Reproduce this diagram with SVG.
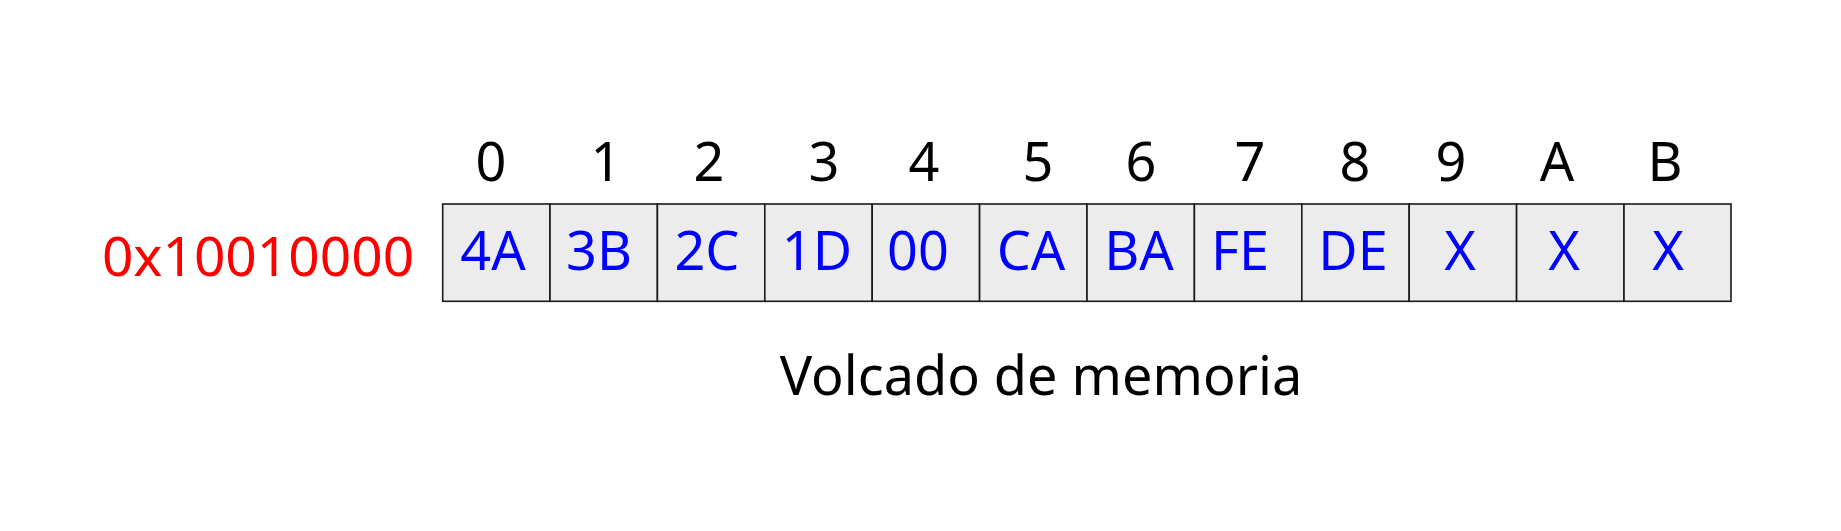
<svg xmlns="http://www.w3.org/2000/svg" width="1841" height="531" viewBox="0 0 1841 531">
<style>
text{font-family:"Noto Sans","Open Sans","DejaVu Sans",sans-serif;font-size:54px;text-anchor:middle}
.idx{fill:#000}
.val{fill:#0000ff}
.addr{fill:#ff0000;font-size:55px}
.cap{fill:#000}
.cell{fill:#ececec;stroke:#1a1a1a;stroke-width:1.6}
</style>
<rect width="1841" height="531" fill="#fff"/>
<g id="indices">
<text class="idx" x="491" y="181">0</text>
<text class="idx" x="606" y="181">1</text>
<text class="idx" x="709" y="181">2</text>
<text class="idx" x="824" y="181">3</text>
<text class="idx" x="924" y="181">4</text>
<text class="idx" x="1038" y="181">5</text>
<text class="idx" x="1141" y="181">6</text>
<text class="idx" x="1250" y="181">7</text>
<text class="idx" x="1355" y="181">8</text>
<text class="idx" x="1451" y="181">9</text>
<text class="idx" x="1557" y="181">A</text>
<text class="idx" x="1665" y="181">B</text>
</g>
<g id="address"><text class="addr" x="258" y="276">0x10010000</text></g>
<g id="cell0"><rect class="cell" x="442.7" y="204" width="107.3" height="97.3"/><text class="val" x="493" y="270">4A</text></g>
<g id="cell1"><rect class="cell" x="550" y="204" width="107.4" height="97.3"/><text class="val" x="599" y="270">3B</text></g>
<g id="cell2"><rect class="cell" x="657.4" y="204" width="107.4" height="97.3"/><text class="val" x="707" y="270">2C</text></g>
<g id="cell3"><rect class="cell" x="764.8" y="204" width="107.4" height="97.3"/><text class="val" x="817" y="270">1D</text></g>
<g id="cell4"><rect class="cell" x="872.2" y="204" width="107.4" height="97.3"/><text class="val" x="918" y="270">00</text></g>
<g id="cell5"><rect class="cell" x="979.6" y="204" width="107.4" height="97.3"/><text class="val" x="1031" y="270">CA</text></g>
<g id="cell6"><rect class="cell" x="1087" y="204" width="107.4" height="97.3"/><text class="val" x="1139" y="270">BA</text></g>
<g id="cell7"><rect class="cell" x="1194.4" y="204" width="107.4" height="97.3"/><text class="val" x="1240" y="270">FE</text></g>
<g id="cell8"><rect class="cell" x="1301.8" y="204" width="107.4" height="97.3"/><text class="val" x="1353" y="270">DE</text></g>
<g id="cell9"><rect class="cell" x="1409.2" y="204" width="107.4" height="97.3"/><text class="val" x="1460" y="270">X</text></g>
<g id="cell10"><rect class="cell" x="1516.6" y="204" width="107.4" height="97.3"/><text class="val" x="1564" y="270">X</text></g>
<g id="cell11"><rect class="cell" x="1624" y="204" width="107" height="97.3"/><text class="val" x="1668" y="270">X</text></g>
<g id="connectors"></g>
<g id="caption"><text class="cap" x="1041" y="395">Volcado de memoria</text></g>
</svg>
